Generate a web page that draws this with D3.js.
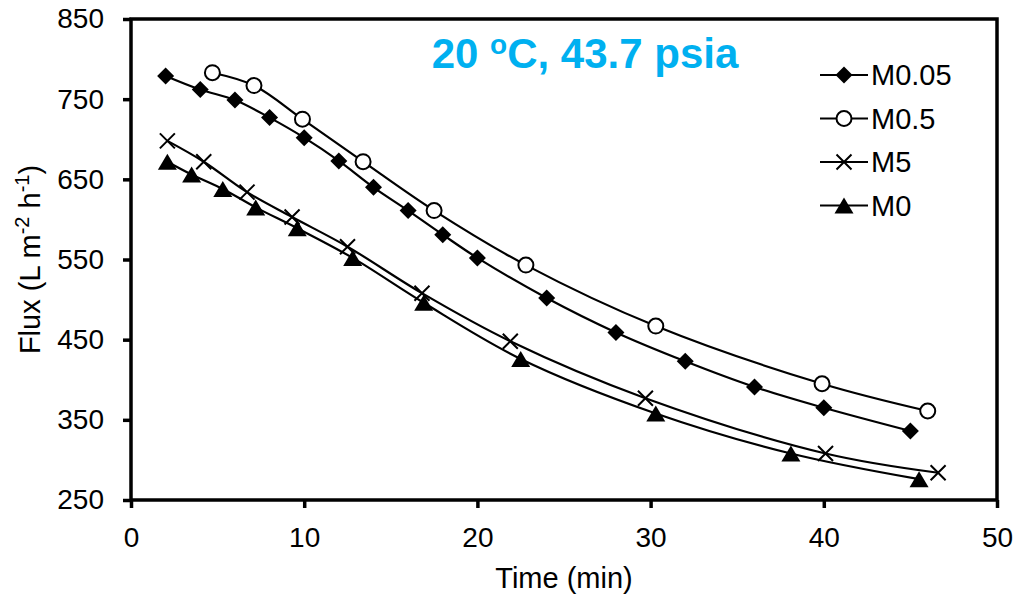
<!DOCTYPE html>
<meta charset="utf-8">
<script src="https://d3js.org/d3.v7.min.js"></script>
<style>
  body { margin: 0; background: #fff; }
  text { font-family: Arial, "Liberation Sans", sans-serif; }
</style>
<div id="graph"></div>
<script>
  // data
  var seriesNames = ["M0.05", "M0.5", "M5", "M0"];
  var timeM005 = [2, 4, 6, 8, 10, 12, 14, 16, 18, 20, 24, 28, 32, 36, 40, 45];
  var fluxM005 = [779, 762, 749, 727, 702, 673, 640, 611, 581, 552, 502, 459, 423, 391, 365, 336];
  var timeM05 = [4.7, 7.1, 9.9, 13.4, 17.5, 22.8, 30.3, 39.9, 46];
  var fluxM05 = [783, 767, 725, 672, 611, 543, 467, 395, 361];
  var timeM5 = [2.1, 4.2, 6.7, 9.3, 12.5, 16.8, 21.9, 29.7, 40.1, 46.6];
  var fluxM5 = [698, 672, 634, 603, 566, 508, 448, 377, 308, 284];
  var timeM0 = [2.1, 3.5, 5.3, 7.2, 9.6, 12.8, 16.9, 22.5, 30.3, 38.1, 45.5];
  var fluxM0 = [672, 656, 638, 615, 589, 552, 496, 426, 358, 308, 276];
  var xTicks = [0, 10, 20, 30, 40, 50];
  var yTicks = [250, 350, 450, 550, 650, 750, 850];

  var W = 1027, H = 594;
  var margin = { top: 19, right: 30, bottom: 94, left: 131 },
    width = W - margin.left - margin.right,
    height = H - margin.top - margin.bottom;

  var svg = d3.select("#graph")
    .append("svg")
    .attr("width", W)
    .attr("height", H)
    .append("g")
    .attr("transform", "translate(" + margin.left + "," + margin.top + ")");

  var x = d3.scaleLinear().domain([0, 50]).range([0, width]);
  var y = d3.scaleLinear().domain([250, 850]).range([height, 0]);

  // axes
  var xAxis = svg.append("g")
    .attr("transform", "translate(0," + height + ")")
    .call(d3.axisBottom(x).tickValues(xTicks).tickSize(8).tickPadding(19));
  var yAxis = svg.append("g")
    .call(d3.axisLeft(y).tickValues(yTicks).tickSize(8).tickPadding(19));
  [xAxis, yAxis].forEach(function (a) {
    a.select(".domain").remove();
    a.selectAll(".tick line").attr("stroke", "#000").attr("stroke-width", 3.5);
    a.selectAll(".tick text").attr("font-size", 28).attr("fill", "#000")
      .style("font-family", "Arial, 'Liberation Sans', sans-serif");
  });

  // plot frame
  svg.append("rect")
    .attr("x", 0).attr("y", 0)
    .attr("width", width).attr("height", height)
    .attr("fill", "none")
    .attr("stroke", "#000")
    .attr("stroke-width", 3.5);

  function pairs(t, f) {
    return t.map(function (d, i) { return [d, f[i]]; });
  }
  var series = [
    { name: seriesNames[0], data: pairs(timeM005, fluxM005), marker: "diamond" },
    { name: seriesNames[1], data: pairs(timeM05, fluxM05), marker: "circle" },
    { name: seriesNames[2], data: pairs(timeM5, fluxM5), marker: "cross" },
    { name: seriesNames[3], data: pairs(timeM0, fluxM0), marker: "triangle" }
  ];

  var line = d3.line()
    .x(function (d) { return x(d[0]); })
    .y(function (d) { return y(d[1]); })
    .curve(d3.curveCatmullRom.alpha(0.5));

  series.forEach(function (s) {
    svg.append("path")
      .datum(s.data)
      .attr("fill", "none")
      .attr("stroke", "#000")
      .attr("stroke-width", 2.2)
      .attr("d", line);
  });

  function drawMarker(g, type, cx, cy) {
    if (type === "diamond") {
      g.append("path")
        .attr("d", "M" + cx + "," + (cy - 8.5) + "L" + (cx + 8.5) + "," + cy +
          "L" + cx + "," + (cy + 8.5) + "L" + (cx - 8.5) + "," + cy + "Z")
        .attr("fill", "#000");
    } else if (type === "circle") {
      g.append("circle")
        .attr("cx", cx).attr("cy", cy).attr("r", 7.5)
        .attr("fill", "#fff").attr("stroke", "#000").attr("stroke-width", 2);
    } else if (type === "cross") {
      g.append("path")
        .attr("d", "M" + (cx - 7.5) + "," + (cy - 7.5) + "L" + (cx + 7.5) + "," + (cy + 7.5) +
          "M" + (cx - 7.5) + "," + (cy + 7.5) + "L" + (cx + 7.5) + "," + (cy - 7.5))
        .attr("stroke", "#000").attr("stroke-width", 2);
    } else {
      g.append("path")
        .attr("d", "M" + cx + "," + (cy - 8) + "L" + (cx + 9.5) + "," + (cy + 8) +
          "L" + (cx - 9.5) + "," + (cy + 8) + "Z")
        .attr("fill", "#000");
    }
  }

  series.forEach(function (s) {
    var g = svg.append("g");
    s.data.forEach(function (d) {
      drawMarker(g, s.marker, x(d[0]), y(d[1]));
    });
  });

  // legend
  var legend = svg.append("g").attr("transform", "translate(" + (820 - margin.left) + "," + (75 - margin.top) + ")");
  series.forEach(function (s, i) {
    var g = legend.append("g").attr("transform", "translate(0," + (i * 43.5) + ")");
    g.append("line").attr("x1", 0).attr("x2", 48).attr("y1", 0).attr("y2", 0)
      .attr("stroke", "#000").attr("stroke-width", 2);
    drawMarker(g, s.marker, 24, 0);
    g.append("text").attr("x", 51).attr("y", 0).attr("dy", "0.35em")
      .attr("font-size", 29).attr("fill", "#000").text(s.name);
  });

  // title
  var title = svg.append("text")
    .attr("x", 585 - margin.left).attr("y", 68 - margin.top)
    .attr("text-anchor", "middle")
    .attr("font-size", 42).attr("font-weight", "bold")
    .attr("fill", "#00B0F0");
  title.append("tspan").text("20 ");
  title.append("tspan").attr("font-size", 28).attr("dy", -14).text("o");
  title.append("tspan").attr("dy", 14).text("C, 43.7 psia");

  // axis titles
  svg.append("text")
    .attr("x", width / 2).attr("y", 588 - margin.top)
    .attr("text-anchor", "middle").attr("font-size", 29).attr("fill", "#000")
    .text("Time (min)");

  var yt = svg.append("text")
    .attr("transform", "translate(" + (40 - margin.left) + "," + (height / 2) + ") rotate(-90)")
    .attr("text-anchor", "middle").attr("font-size", 29).attr("fill", "#000");
  yt.append("tspan").text("Flux (L m");
  yt.append("tspan").attr("font-size", 20).attr("dy", -11).text("-2");
  yt.append("tspan").attr("dy", 11).text(" h");
  yt.append("tspan").attr("font-size", 20).attr("dy", -11).text("-1");
  yt.append("tspan").attr("dy", 11).text(")");
</script>
